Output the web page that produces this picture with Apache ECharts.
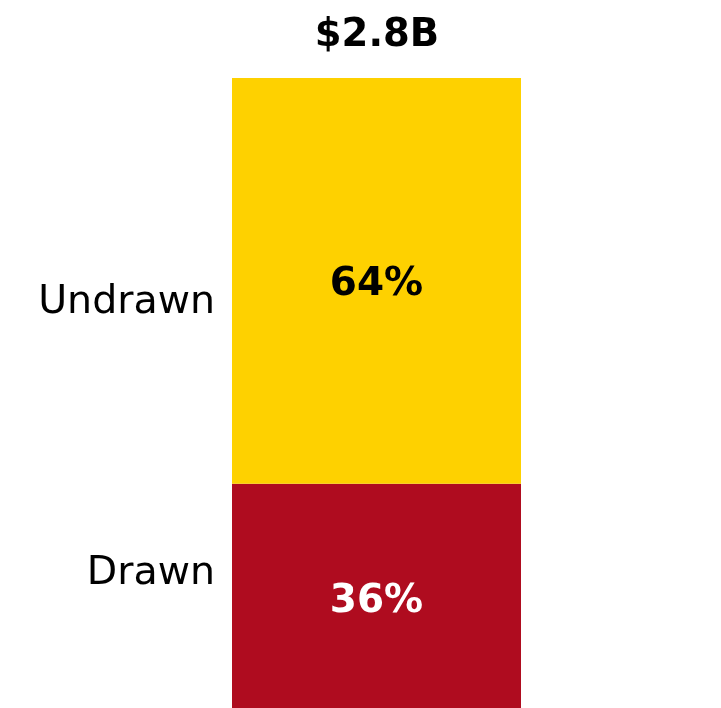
<!DOCTYPE html>
<html><head><meta charset="utf-8">
<script src="https://cdn.jsdelivr.net/npm/echarts@6/dist/echarts.min.js"></script>
<style>html,body{margin:0;padding:0;background:#fff}#c{width:721px;height:708px}</style>
</head><body><div id="c"></div>
<script>
var categories = ['Total'];
var totalLabel = '$2.8B';
var segmentNames = ['Drawn', 'Undrawn'];
var drawnValues = [35.6];
var undrawnValues = [64.4];
var colors = ['#AF0C1F', '#FED100'];
var pctColors = ['#ffffff', '#000000'];
var nameOffsets = [[0, -22], [0, 22]];
var pctOffsets = [[0, 6], [0, 4]];

var font = 'DejaVu Sans';
var chart = echarts.init(document.getElementById('c'), null, {renderer: 'canvas'});
var valuesList = [drawnValues, undrawnValues];
var series = [];
valuesList.forEach(function (vals, i) {
  series.push({
    type: 'bar', name: segmentNames[i], stack: 'pct', data: vals,
    barWidth: 289, barGap: '-100%',
    itemStyle: {color: colors[i]},
    label: {show: true, position: 'inside', offset: pctOffsets[i],
      formatter: function (p) { return Math.round(p.value) + '%'; },
      color: pctColors[i], fontFamily: font, fontWeight: 'bold', fontSize: 39},
    silent: true
  });
});
valuesList.forEach(function (vals, i) {
  series.push({
    type: 'bar', name: segmentNames[i] + ' label', stack: 'names', data: vals,
    barWidth: 289, barGap: '-100%',
    itemStyle: {color: 'rgba(0,0,0,0)'},
    label: {show: true, position: 'left', distance: 17, offset: nameOffsets[i],
      formatter: segmentNames[i], color: '#000', fontFamily: font, fontSize: 39.5},
    silent: true
  });
});
chart.setOption({
  animation: false,
  title: {text: totalLabel, left: 372, top: 11, textAlign: 'center',
    textStyle: {fontFamily: font, fontWeight: 'bold', fontSize: 38.5, color: '#000'}},
  grid: {left: 232, right: 200, top: 78, bottom: 0},
  xAxis: {type: 'category', data: categories, show: false},
  yAxis: {type: 'value', min: 0, max: 100, show: false},
  series: series
});
</script></body></html>
